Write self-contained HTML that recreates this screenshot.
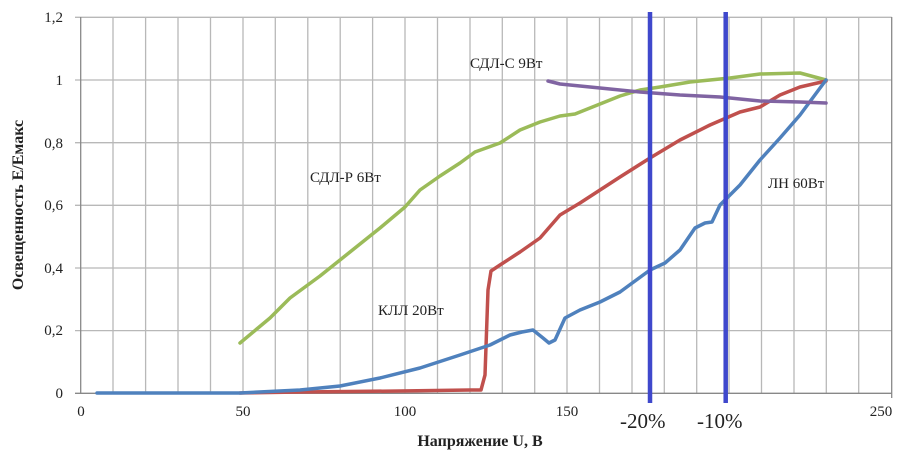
<!DOCTYPE html>
<html><head><meta charset="utf-8"><style>body{margin:0;background:#fff}svg{display:block}text{font-family:"Liberation Serif",serif;fill:#222}</style></head><body>
<svg width="915" height="463" viewBox="0 0 915 463">
<g stroke="#b8b8b8" stroke-width="1.3">
<line x1="113" y1="17" x2="113" y2="393"/><line x1="145.6" y1="17" x2="145.6" y2="393"/><line x1="178" y1="17" x2="178" y2="393"/><line x1="210.5" y1="17" x2="210.5" y2="393"/><line x1="243" y1="17" x2="243" y2="393"/>
<line x1="275.3" y1="17" x2="275.3" y2="393"/><line x1="307.8" y1="17" x2="307.8" y2="393"/><line x1="340.2" y1="17" x2="340.2" y2="393"/><line x1="372.6" y1="17" x2="372.6" y2="393"/><line x1="405" y1="17" x2="405" y2="393"/>
<line x1="437.5" y1="17" x2="437.5" y2="393"/><line x1="470" y1="17" x2="470" y2="393"/><line x1="502.3" y1="17" x2="502.3" y2="393"/><line x1="534.7" y1="17" x2="534.7" y2="393"/><line x1="567" y1="17" x2="567" y2="393"/>
<line x1="599.5" y1="17" x2="599.5" y2="393"/><line x1="632" y1="17" x2="632" y2="393"/><line x1="664.3" y1="17" x2="664.3" y2="393"/><line x1="696.7" y1="17" x2="696.7" y2="393"/><line x1="729" y1="17" x2="729" y2="393"/>
<line x1="761.5" y1="17" x2="761.5" y2="393"/><line x1="794" y1="17" x2="794" y2="393"/><line x1="826.3" y1="17" x2="826.3" y2="393"/><line x1="858.7" y1="17" x2="858.7" y2="393"/>
<line x1="75" y1="17.3" x2="891.7" y2="17.3"/><line x1="75" y1="80" x2="891.7" y2="80"/><line x1="75" y1="142.7" x2="891.7" y2="142.7"/><line x1="75" y1="205.3" x2="891.7" y2="205.3"/><line x1="75" y1="268" x2="891.7" y2="268"/><line x1="75" y1="330.6" x2="891.7" y2="330.6"/>
</g>
<g stroke="#888" stroke-width="1.3"><line x1="80.7" y1="17" x2="80.7" y2="393.3"/><line x1="891.7" y1="17" x2="891.7" y2="398"/><line x1="75" y1="393.3" x2="891.7" y2="393.3"/></g>
<g font-size="15" text-anchor="end"><text x="63" y="22">1,2</text><text x="63" y="85">1</text><text x="63" y="148">0,8</text><text x="63" y="210">0,6</text><text x="63" y="273">0,4</text><text x="63" y="335">0,2</text><text x="63" y="398">0</text></g>
<g font-size="15" text-anchor="middle"><text x="81" y="416">0</text><text x="243" y="416">50</text><text x="405" y="416">100</text><text x="567" y="416">150</text><text x="881" y="416">250</text></g>
<g fill="none" stroke-width="3.5" stroke-linejoin="round" stroke-linecap="round">
<path stroke="#9bbb59" d="M240,343 L270,318 290,298 320,276 350,252 380,228 405,207 420,190 440,176 460,163 475,152 500,143 520,130 540,122 560,116 575,114 600,104 620,96 640,90 660,87 690,82 730,78 760,74 800,73 826,80"/>
<path stroke="#c0504d" d="M240,393 L300,392 400,391 470,390 481,390 485,375 488,290 491,271 500,265 520,252 540,238 560,215 580,203 600,190 620,177 650,158 680,140 710,125 740,112 760,107 780,95 800,87 826,81"/>
<path stroke="#4f81bd" d="M97,393 L240,393 300,390 340,386 380,378 420,368 460,355 490,345 510,335 522,332 533,330 543,338 549,343 555,340 565,318 580,310 600,302 620,292 650,270 665,263 680,250 695,228 705,223 712,222 720,205 740,185 760,160 780,138 800,115 826,80"/>
<path stroke="#8064a2" d="M548,81 L560,84 600,88 640,92 680,95 720,97 760,101 800,102 826,103"/>
</g>
<g stroke="#3f48cc" stroke-width="4.5"><line x1="650" y1="12" x2="650" y2="403"/><line x1="725.7" y1="12" x2="725.7" y2="403"/></g>
<g font-size="15"><text x="470" y="68">СДЛ-С  9Вт</text><text x="310" y="182">СДЛ-Р  6Вт</text><text x="378" y="315">КЛЛ 20Вт</text><text x="768" y="188">ЛН 60Вт</text></g>
<g font-size="21"><text x="620" y="428">-20%</text><text x="697" y="428">-10%</text></g>
<text x="480" y="446" font-size="16" font-weight="bold" text-anchor="middle">Напряжение  U, В</text>
<text transform="translate(23,205) rotate(-90)" font-size="16" font-weight="bold" text-anchor="middle">Освещенность  E/Eмакс</text>
</svg></body></html>
